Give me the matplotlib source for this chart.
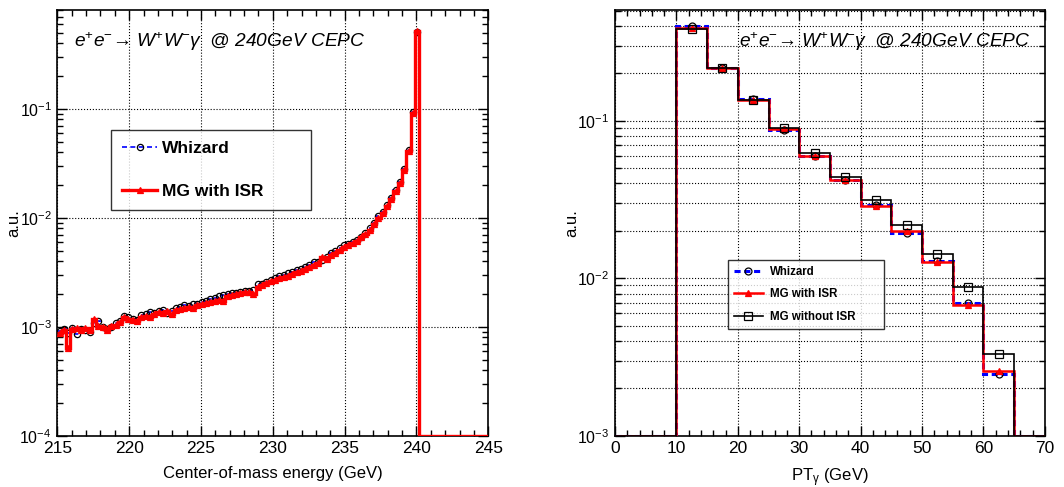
import numpy as np
import matplotlib
matplotlib.use('Agg')
import matplotlib.pyplot as plt
from matplotlib.ticker import MultipleLocator, LogLocator, NullFormatter

plt.rcParams['font.family'] = ['Liberation Sans', 'DejaVu Sans']
plt.rcParams['mathtext.fontset'] = 'custom'
plt.rcParams['mathtext.rm'] = 'Liberation Sans'
plt.rcParams['mathtext.it'] = 'Liberation Sans:italic'
plt.rcParams['mathtext.bf'] = 'Liberation Sans:bold'

# left panel: centre-of-mass energy, 100 bins of 0.3 GeV
sqrts_edges = np.linspace(215, 245, 101)
sqrts_whizard = [
    0.00092, 0.00095, 0.00088, 0.00097, 0.00085, 0.00096, 0.00094, 0.00090, 0.00108, 0.00112,
    0.00100, 0.00096, 0.00100, 0.00108, 0.00114, 0.00126, 0.00122, 0.00118, 0.00116, 0.00128,
    0.00130, 0.00136, 0.00133, 0.00140, 0.00141, 0.00135, 0.00139, 0.00148, 0.00152, 0.00158,
    0.00154, 0.00160, 0.00162, 0.00170, 0.00172, 0.00180, 0.00185, 0.00190, 0.00196, 0.00198,
    0.00205, 0.00203, 0.00210, 0.00215, 0.00212, 0.00218, 0.00245, 0.00248, 0.00258, 0.00270,
    0.00282, 0.00290, 0.00298, 0.00310, 0.00318, 0.00330, 0.00340, 0.00356, 0.00372, 0.00390,
    0.00395, 0.00410, 0.00440, 0.00480, 0.00495, 0.00525, 0.00560, 0.00580, 0.00600, 0.00630,
    0.00670, 0.00720, 0.00800, 0.00900, 0.01030, 0.01130, 0.01320, 0.01520, 0.01800, 0.02150,
    0.02800, 0.04200, 0.09300, 0.51000, 0, 0, 0, 0, 0, 0,
    0, 0, 0, 0, 0, 0, 0, 0, 0, 0,
]
sqrts_mg_isr = [
    0.00088, 0.00093, 0.00064, 0.00095, 0.00097, 0.00093, 0.00098, 0.00094, 0.00118, 0.00101,
    0.00099, 0.00094, 0.00101, 0.00104, 0.00110, 0.00124, 0.00118, 0.00115, 0.00113, 0.00123,
    0.00125, 0.00122, 0.00130, 0.00136, 0.00133, 0.00138, 0.00131, 0.00142, 0.00145, 0.00148,
    0.00152, 0.00150, 0.00157, 0.00162, 0.00166, 0.00168, 0.00171, 0.00176, 0.00172, 0.00192,
    0.00195, 0.00200, 0.00206, 0.00210, 0.00208, 0.00200, 0.00232, 0.00240, 0.00252, 0.00262,
    0.00270, 0.00282, 0.00285, 0.00295, 0.00305, 0.00318, 0.00328, 0.00340, 0.00352, 0.00370,
    0.00385, 0.00440, 0.00420, 0.00455, 0.00480, 0.00510, 0.00540, 0.00560, 0.00585, 0.00610,
    0.00660, 0.00710, 0.00780, 0.00880, 0.01000, 0.01100, 0.01290, 0.01490, 0.01770, 0.02100,
    0.02750, 0.04100, 0.09100, 0.52000, 0, 0, 0, 0, 0, 0,
    0, 0, 0, 0, 0, 0, 0, 0, 0, 0,
]

# right panel: photon pT, 5 GeV bins
pt_edges = np.arange(0, 75, 5)
pt_whizard = [0, 0, 0.400, 0.218, 0.137, 0.088, 0.0600, 0.0420, 0.0290, 0.0193, 0.0129, 0.00694, 0.00248, 0]
pt_mg_isr = [0, 0, 0.390, 0.217, 0.135, 0.089, 0.0598, 0.0420, 0.0288, 0.0199, 0.01265, 0.00673, 0.00256, 0]
pt_mg_noisr = [0, 0, 0.385, 0.218, 0.136, 0.090, 0.0625, 0.0440, 0.0314, 0.0218, 0.0142, 0.00877, 0.00328, 0]

title = 'e$^{+}$e$^{-}$\u2192 W$^{+}$W$^{-}$\u03b3  @ 240GeV CEPC'


def draw_hist(ax, edges, vals, ylo, color, ls, lw, marker, mfc, mec, ms, label, z):
    vals = np.asarray(vals, dtype=float)
    ax.stairs(np.maximum(vals, ylo), edges, baseline=None, color=color,
              ls=ls, lw=lw, zorder=z)
    centers = 0.5 * (edges[1:] + edges[:-1])
    keep = vals > 0
    ax.plot(centers[keep], vals[keep], ls='none', marker=marker, mfc=mfc,
            mec=mec, mew=0.9, ms=ms, color=color, zorder=z + 0.1)
    # proxy for the legend
    ax.plot([], [], color=color, ls=ls, lw=lw, marker=marker, mfc=mfc,
            mec=mec, mew=0.9, ms=ms, label=label)


def style_axes(ax, xlim, ylim, xmajor, xminor, minor_ygrid):
    ax.set_yscale('log')
    ax.set_xlim(xlim)
    ax.set_ylim(ylim)
    ax.xaxis.set_major_locator(MultipleLocator(xmajor))
    ax.xaxis.set_minor_locator(MultipleLocator(xminor))
    ax.yaxis.set_major_locator(LogLocator(base=10))
    ax.yaxis.set_minor_locator(LogLocator(base=10, subs=np.arange(2, 10)))
    ax.yaxis.set_minor_formatter(NullFormatter())
    ax.tick_params(which='both', direction='in', top=True, right=True, width=1.0)
    ax.tick_params(axis='x', labelsize=12.5)
    ax.tick_params(axis='y', labelsize=11.5)
    ax.tick_params(which='major', length=7, pad=4)
    ax.tick_params(which='minor', length=4)
    for sp in ax.spines.values():
        sp.set_linewidth(1.2)
    ax.grid(True, which='major', ls=':', color='black', lw=0.8)
    if minor_ygrid:
        ax.grid(True, which='minor', axis='y', ls=':', color='black', lw=0.8)
    ax.set_axisbelow(True)
    ax.set_ylabel('a.u.', fontsize=12)
    ax.yaxis.set_label_coords(-0.084, 0.5)
    ax.xaxis.set_label_coords(0.5, -0.072)


fig = plt.figure(figsize=(10.64, 4.87), dpi=100)
ax1 = fig.add_axes([0.0539, 0.1053, 0.405, 0.874])
ax2 = fig.add_axes([0.578, 0.1053, 0.404, 0.874])

# left: sqrt(s)
lo1 = 1e-4
style_axes(ax1, (215, 245), (lo1, 0.805), 5, 1, False)
draw_hist(ax1, sqrts_edges, sqrts_whizard, lo1, 'blue', (0, (3, 2)), 1.2,
          'o', 'none', 'black', 4.5, 'Whizard', 3)
draw_hist(ax1, sqrts_edges, sqrts_mg_isr, lo1, 'red', '-', 2.4,
          '^', 'red', 'red', 4, 'MG with ISR', 4)
ax1.set_xlabel('Center-of-mass energy (GeV)', fontsize=12)
ax1.text(0.039, 0.925, title, transform=ax1.transAxes, fontsize=13.8,
         style='italic', va='center', ha='left')
leg1 = ax1.legend(loc='center', bbox_to_anchor=(0.125, 0.525, 0.464, 0.2),
                  mode='expand', prop={'weight': 'bold', 'size': 12.5},
                  handlelength=2.0, handletextpad=0.3, labelspacing=1.6,
                  borderpad=0.64, frameon=True, fancybox=False,
                  edgecolor='black', borderaxespad=0)
leg1.get_frame().set_linewidth(1.0)

# right: photon pT
lo2 = 1e-3
style_axes(ax2, (0, 70), (lo2, 0.505), 10, 2, True)
draw_hist(ax2, pt_edges, pt_whizard, lo2, 'blue', (0, (2, 1.2)), 2.2,
          'o', 'none', 'black', 5, 'Whizard', 3)
draw_hist(ax2, pt_edges, pt_mg_isr, lo2, 'red', '-', 1.8,
          '^', 'red', 'red', 5, 'MG with ISR', 4)
draw_hist(ax2, pt_edges, pt_mg_noisr, lo2, 'black', '-', 1.2,
          's', 'none', 'black', 5.5, 'MG without ISR', 5)
ax2.set_xlabel('PT$_{\\mathrm{\u03b3}}$ (GeV)', fontsize=12)
ax2.text(0.288, 0.925, title, transform=ax2.transAxes, fontsize=13.8,
         style='italic', va='center', ha='left')
leg2 = ax2.legend(loc='center', bbox_to_anchor=(0.263, 0.251, 0.363, 0.162),
                  mode='expand', prop={'weight': 'bold', 'size': 8.3},
                  handlelength=2.5, handletextpad=0.6, labelspacing=0.9,
                  borderpad=0.5, frameon=True, fancybox=False,
                  edgecolor='black', borderaxespad=0)
leg2.get_frame().set_linewidth(1.0)

fig.savefig('out.png', dpi=100)
